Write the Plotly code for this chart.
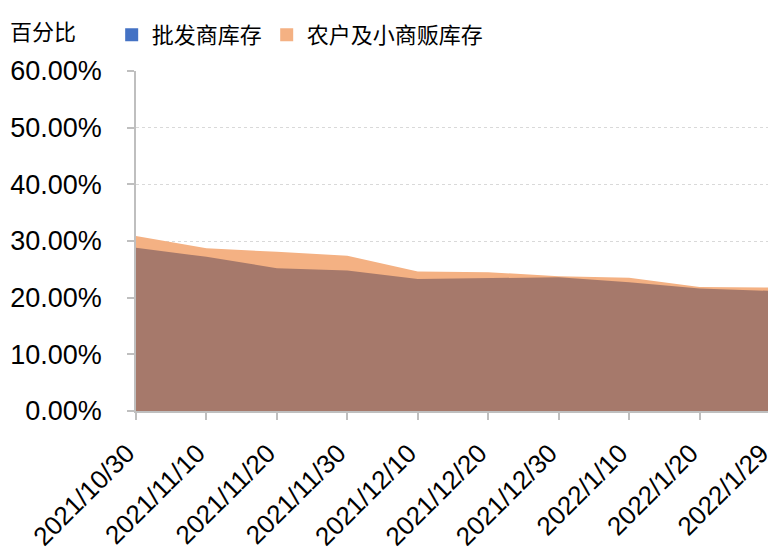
import plotly.graph_objects as go

# 日期（类别轴）与两组库存占比（%）
dates = ["2021/10/30", "2021/11/10", "2021/11/20", "2021/11/30", "2021/12/10",
         "2021/12/20", "2021/12/30", "2022/1/10", "2022/1/20", "2022/1/29"]
wholesaler = [28.8, 27.2, 25.2, 24.8, 23.3, 23.4, 23.6, 22.7, 21.6, 21.2]
farmer_vendor = [30.9, 28.7, 28.1, 27.4, 24.6, 24.5, 23.8, 23.5, 21.9, 21.8]
y_ticks = [0, 10, 20, 30, 40, 50, 60]

blue = "#4472C4"
orange = "#F4B183"
overlap = "#A6796B"  # overlap of the two areas shows as brown in the original

cn_font = "Noto Sans CJK SC"
num_font = "Liberation Sans"

fig = go.Figure()

# orange area first, then wholesaler area drawn over it
fig.add_trace(go.Scatter(x=dates, y=farmer_vendor, mode="lines", fill="tozeroy",
                         line=dict(width=0, color=orange), fillcolor=orange,
                         showlegend=False, hoverinfo="skip"))
fig.add_trace(go.Scatter(x=dates, y=wholesaler, mode="lines", fill="tozeroy",
                         line=dict(width=0, color=blue), fillcolor=overlap,
                         showlegend=False, hoverinfo="skip"))

# legend entries as squares
for name, col in [("批发商库存", blue), ("农户及小商贩库存", orange)]:
    fig.add_trace(go.Scatter(x=[None], y=[None], mode="markers", name=name,
                             marker=dict(symbol="square", size=13, color=col)))

# page body has an 8px margin, so the figure is 8px smaller than the window
fig.update_layout(
    width=768, height=552,
    margin=dict(l=128, r=6, t=63, b=149, autoexpand=False),
    plot_bgcolor="white", paper_bgcolor="white",
    font=dict(family=num_font, size=27, color="black"),
    legend=dict(orientation="h", xref="container", yref="container",
                x=0.135, y=0.951, xanchor="left", yanchor="middle",
                font=dict(family=cn_font, size=22, color="black"),
                itemwidth=30, tracegroupgap=0, bgcolor="rgba(0,0,0,0)"),
    annotations=[dict(text="百分比", xref="paper", yref="paper", x=-0.202, y=1.12,
                      xanchor="left", yanchor="middle", showarrow=False,
                      font=dict(family=cn_font, size=22, color="black"))],
)

fig.update_xaxes(type="category", range=[0, 9], tickangle=-45, automargin=False,
                 ticklabelstandoff=8, ticklabelshift=-9,
                 showline=True, linecolor="#BFBFBF", linewidth=1.5,
                 ticks="outside", ticklen=7, tickcolor="#BFBFBF", tickwidth=1.5,
                 showgrid=False, tickfont=dict(family=num_font, size=26))
fig.update_yaxes(range=[0, 60], tickvals=y_ticks, automargin=False,
                 ticktext=[f"{v:.2f}%" for v in y_ticks], ticklabelstandoff=20,
                 showline=True, linecolor="#BFBFBF", linewidth=1.5,
                 ticks="outside", ticklen=7, tickcolor="#BFBFBF", tickwidth=1.5,
                 showgrid=True, gridcolor="#D9D9D9", griddash="dot", gridwidth=1,
                 zeroline=False, tickfont=dict(family=num_font, size=27))

fig.write_html("out.html")
